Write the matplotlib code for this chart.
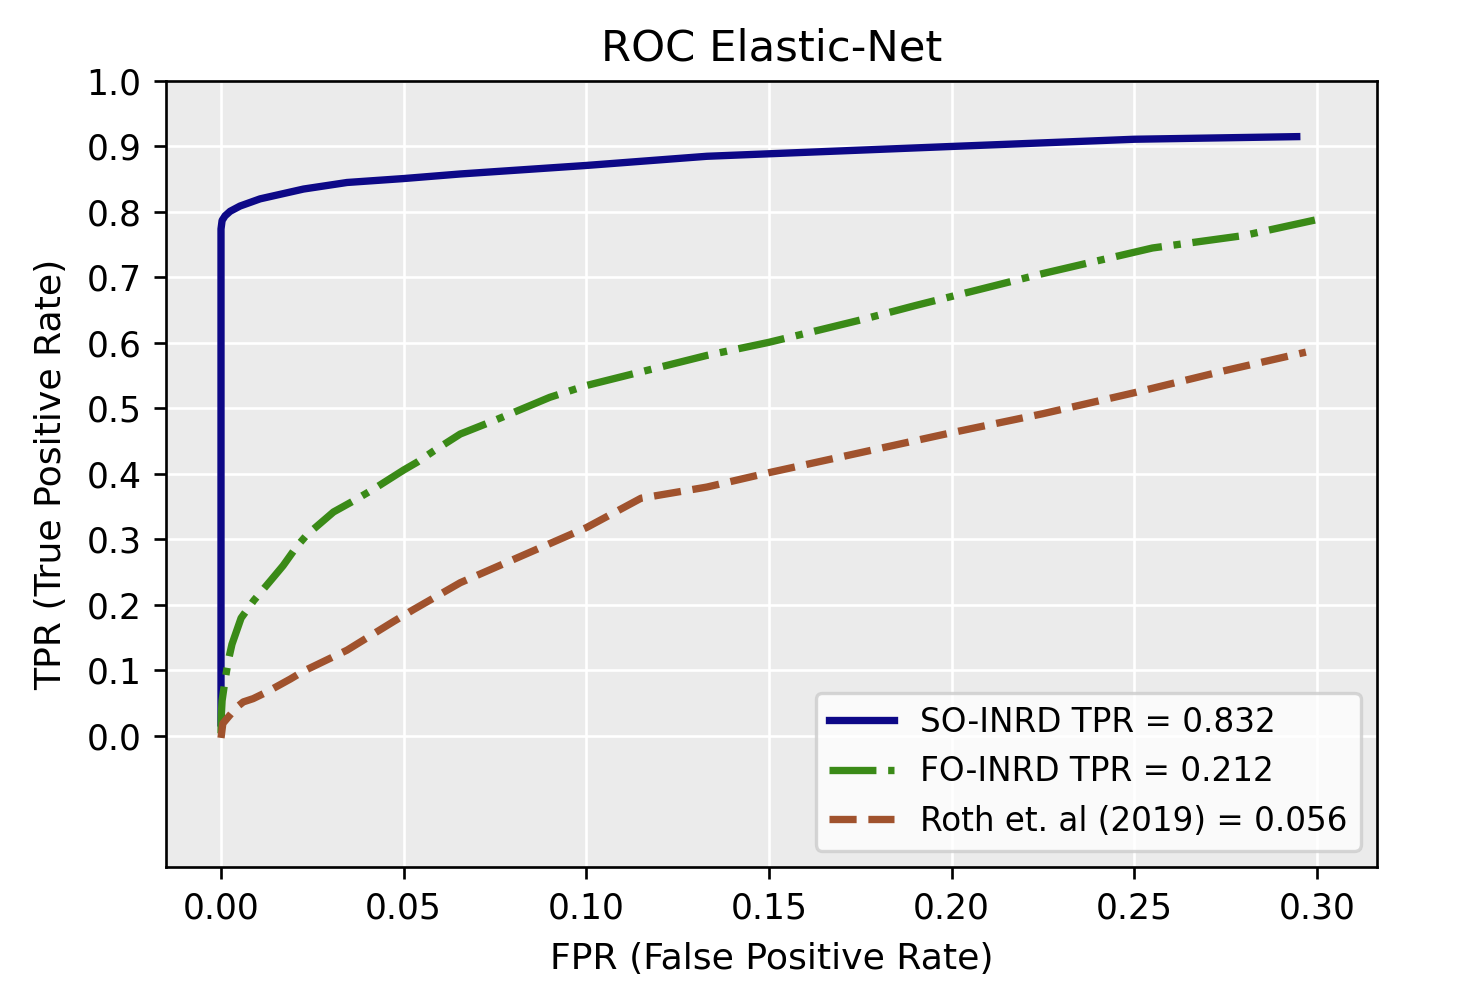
import matplotlib
matplotlib.use('Agg')
import matplotlib.pyplot as plt
import numpy as np

# --- datos ---
so_fpr = [0, 0, 0.0003, 0.0011, 0.0025, 0.0052, 0.0107, 0.0226, 0.0345, 0.05,
          0.0655, 0.1, 0.133, 0.2, 0.25, 0.2945]
so_tpr = [0.02, 0.774, 0.787, 0.794, 0.801, 0.809, 0.820, 0.835, 0.845, 0.851,
          0.858, 0.871, 0.885, 0.900, 0.911, 0.915]

fo_fpr = [0, 0.0001, 0.0003, 0.0011, 0.002, 0.003, 0.0055, 0.009, 0.0134, 0.017,
          0.0207, 0.0235, 0.0308, 0.0363, 0.0418, 0.05, 0.0537, 0.0582, 0.0655,
          0.075, 0.09, 0.1, 0.133, 0.15, 0.175, 0.19, 0.2, 0.225, 0.255, 0.28, 0.3014]
fo_tpr = [0.004, 0.034, 0.054, 0.085, 0.115, 0.14, 0.18, 0.207, 0.236, 0.26,
          0.289, 0.307, 0.342, 0.359, 0.377, 0.406, 0.418, 0.435, 0.461,
          0.482, 0.517, 0.535, 0.581, 0.601, 0.635, 0.657, 0.671, 0.706, 0.745, 0.764, 0.790]

roth_fpr = [0, 0.0005, 0.002, 0.0043, 0.0061, 0.0088, 0.0125, 0.019, 0.0226,
            0.0345, 0.0473, 0.0527, 0.0655, 0.1, 0.115, 0.133, 0.15, 0.2, 0.225,
            0.25, 0.275, 0.297]
roth_tpr = [-0.003, 0.019, 0.029, 0.044, 0.052, 0.057, 0.067, 0.087, 0.099,
            0.131, 0.175, 0.193, 0.234, 0.318, 0.363, 0.380, 0.402, 0.463, 0.492,
            0.524, 0.558, 0.586]

labels = ["SO-INRD TPR = 0.832", "FO-INRD TPR = 0.212", "Roth et. al (2019) = 0.056"]
yticks = np.round(np.arange(0, 1.01, 0.1), 1)

fig, ax = plt.subplots(figsize=(1457 / 240, 997 / 240), dpi=240)
fig.subplots_adjust(left=0.1139, right=0.9451, top=0.9188, bottom=0.1304)

ax.set_facecolor('#EBEBEB')
ax.grid(True, color='white', linewidth=0.8)
ax.set_axisbelow(True)

ax.plot(so_fpr, so_tpr, color='#0d0887', linewidth=2.2, linestyle='-', label=labels[0])
ax.plot(fo_fpr, fo_tpr, color='#3a8a17', linewidth=2.2, linestyle='-.', label=labels[1])
ax.plot(roth_fpr, roth_tpr, color='#a0522d', linewidth=2.2, linestyle='--', label=labels[2])

ax.set_ylim(-0.2, 1.0)
ax.set_yticks(yticks)
ax.tick_params(labelsize=10.4, pad=3.8)
ax.set_title('ROC Elastic-Net', fontsize=13)
ax.set_xlabel('FPR (False Positive Rate)', fontsize=10.9, labelpad=5)
ax.set_ylabel('TPR (True Positive Rate)', fontsize=10.9, labelpad=5.5)
ax.legend(loc='lower right', fontsize=9.8)

plt.savefig('out.png', dpi=240)
plt.close()
